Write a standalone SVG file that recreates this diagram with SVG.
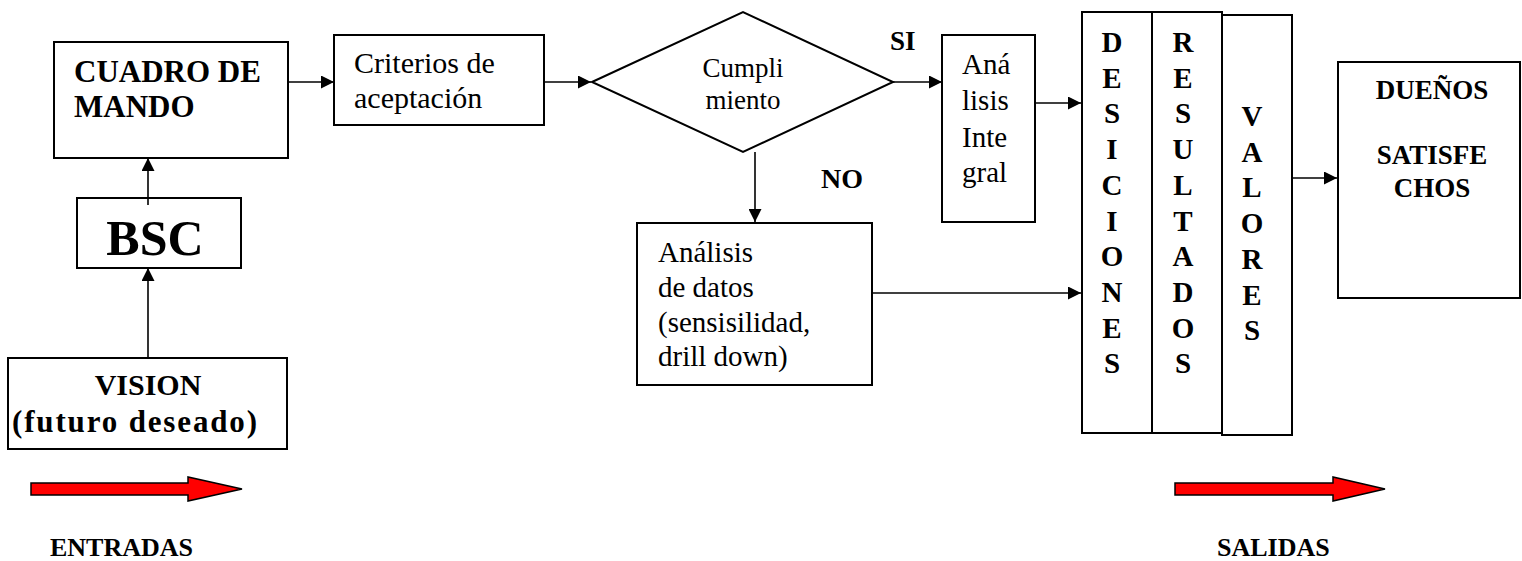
<svg xmlns="http://www.w3.org/2000/svg" width="1522" height="561" viewBox="0 0 1522 561">
<style>
.box{fill:#fff;stroke:#000;stroke-width:2}
.ln{stroke:#000;stroke-width:1.6;fill:none}
text{font-family:'Liberation Serif','Times New Roman','DejaVu Serif',serif;fill:#000}
.b{font-weight:bold}
.red{fill:#ff0000;stroke:#000;stroke-width:1.5}
</style>
<defs>
<marker id="ah" markerWidth="13" markerHeight="13" refX="13" refY="6.5" orient="auto" markerUnits="userSpaceOnUse" viewBox="0 0 13 13">
<path d="M0,0 L13,6.5 L0,13 Z" fill="#000"/>
</marker>
</defs>
<rect width="1522" height="561" fill="#fff"/>
<g id="cuadro">
<rect class="box" x="54" y="42" width="234" height="116"/>
<text class="b" font-size="31" x="74" y="82">CUADRO DE</text>
<text class="b" font-size="31" x="74" y="117">MANDO</text>
</g>
<g id="bsc">
<rect class="box" x="77" y="198" width="164" height="70"/>
<text class="b" font-size="50" x="155" y="255" text-anchor="middle">BSC</text>
</g>
<g id="vision">
<rect class="box" x="8" y="358" width="279" height="91"/>
<text class="b" font-size="30" x="148" y="395" text-anchor="middle">VISION</text>
<text class="b" font-size="31" x="134.5" y="432" text-anchor="middle" textLength="245" lengthAdjust="spacing">(futuro deseado)</text>
</g>
<g id="criterios">
<rect class="box" x="334" y="35" width="210" height="90"/>
<text font-size="30" x="354" y="73">Criterios de</text>
<text font-size="30" x="354" y="108">aceptación</text>
</g>
<g id="cumplimiento">
<polygon class="box" points="592,82 743,12 893,82 743,152"/>
<text font-size="27" x="743" y="77" text-anchor="middle">Cumpli</text>
<text font-size="27" x="743" y="109" text-anchor="middle">miento</text>
</g>
<g id="analisis-integral">
<rect class="box" x="942" y="35" width="93" height="187"/>
<text font-size="29">
<tspan x="962" y="74">Aná</tspan>
<tspan x="962" y="110">lisis</tspan>
<tspan x="962" y="147">Inte</tspan>
<tspan x="962" y="182">gral</tspan>
</text>
</g>
<g id="analisis-datos">
<rect class="box" x="637" y="223" width="235" height="162"/>
<text font-size="29">
<tspan x="658" y="262">Análisis</tspan>
<tspan x="658" y="297">de datos</tspan>
<tspan x="658" y="332">(sensisilidad,</tspan>
<tspan x="658" y="366">drill down)</tspan>
</text>
</g>
<g id="desiciones">
<rect class="box" x="1082" y="12" width="70" height="421"/>
<text class="b" font-size="29" text-anchor="middle">
<tspan x="1112" y="52">D</tspan><tspan x="1112" dy="35.7">E</tspan><tspan x="1112" dy="35.7">S</tspan><tspan x="1112" dy="35.7">I</tspan><tspan x="1112" dy="35.7">C</tspan><tspan x="1112" dy="35.7">I</tspan><tspan x="1112" dy="35.7">O</tspan><tspan x="1112" dy="35.7">N</tspan><tspan x="1112" dy="35.7">E</tspan><tspan x="1112" dy="35.7">S</tspan>
</text>
</g>
<g id="resultados">
<rect class="box" x="1152" y="12" width="70" height="421"/>
<text class="b" font-size="29" text-anchor="middle">
<tspan x="1183" y="52">R</tspan><tspan x="1183" dy="35.7">E</tspan><tspan x="1183" dy="35.7">S</tspan><tspan x="1183" dy="35.7">U</tspan><tspan x="1183" dy="35.7">L</tspan><tspan x="1183" dy="35.7">T</tspan><tspan x="1183" dy="35.7">A</tspan><tspan x="1183" dy="35.7">D</tspan><tspan x="1183" dy="35.7">O</tspan><tspan x="1183" dy="35.7">S</tspan>
</text>
</g>
<g id="valores">
<rect class="box" x="1222" y="15" width="70" height="420"/>
<text class="b" font-size="29" text-anchor="middle">
<tspan x="1252" y="126">V</tspan><tspan x="1252" dy="35.7">A</tspan><tspan x="1252" dy="35.7">L</tspan><tspan x="1252" dy="35.7">O</tspan><tspan x="1252" dy="35.7">R</tspan><tspan x="1252" dy="35.7">E</tspan><tspan x="1252" dy="35.7">S</tspan>
</text>
</g>
<g id="duenos">
<rect class="box" x="1338" y="62" width="182" height="236"/>
<text class="b" font-size="27" x="1432" y="99" text-anchor="middle">DUEÑOS</text>
<text class="b" font-size="27" x="1432" y="164" text-anchor="middle">SATISFE</text>
<text class="b" font-size="27" x="1432" y="197" text-anchor="middle">CHOS</text>
</g>
<g id="labels">
<text class="b" font-size="27" x="890" y="50">SI</text>
<text class="b" font-size="28" x="821" y="188">NO</text>
</g>
<g id="entradas">
<polygon class="red" points="31,483 188,483 188,477 242,489 188,501 188,495 31,495"/>
<text class="b" font-size="26" x="50" y="556">ENTRADAS</text>
</g>
<g id="salidas">
<polygon class="red" points="1175,483 1333,483 1333,477 1385,489 1333,501 1333,495 1175,495"/>
<text class="b" font-size="26" x="1217" y="556">SALIDAS</text>
</g>
<g id="connectors">
<line class="ln" x1="148" y1="357" x2="148" y2="268" marker-end="url(#ah)"/>
<line class="ln" x1="148" y1="205" x2="148" y2="158" marker-end="url(#ah)"/>
<line class="ln" x1="288" y1="82" x2="334" y2="82" marker-end="url(#ah)"/>
<line class="ln" x1="544" y1="82" x2="591" y2="82" marker-end="url(#ah)"/>
<line class="ln" x1="893" y1="82" x2="942" y2="82" marker-end="url(#ah)"/>
<line class="ln" x1="755" y1="152" x2="755" y2="222" marker-end="url(#ah)"/>
<line class="ln" x1="1035" y1="103" x2="1081" y2="103" marker-end="url(#ah)"/>
<line class="ln" x1="872" y1="293" x2="1081" y2="293" marker-end="url(#ah)"/>
<line class="ln" x1="1292" y1="178" x2="1337" y2="178" marker-end="url(#ah)"/>
</g>
</svg>
